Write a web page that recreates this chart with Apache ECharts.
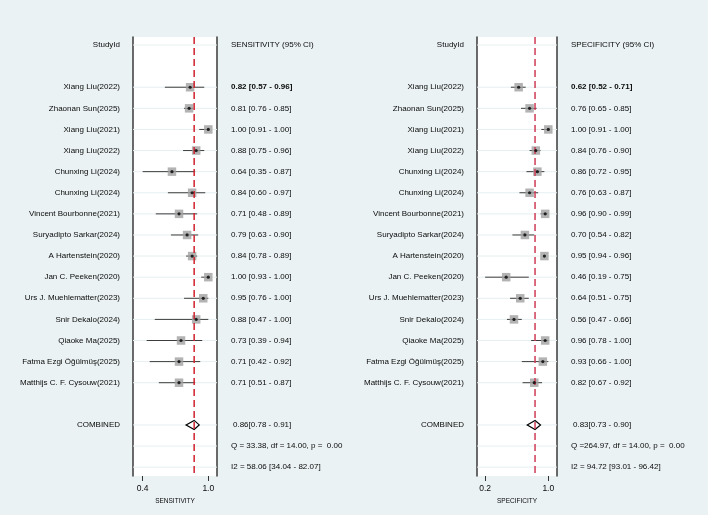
<!DOCTYPE html>
<html>
<head>
<meta charset="utf-8">
<script src="https://cdn.jsdelivr.net/npm/echarts@6/dist/echarts.min.js"></script>
<style>
  html, body { margin: 0; padding: 0; background: #eaf2f3; }
  #chart { width: 708px; height: 515px; }
</style>
</head>
<body>
<div id="chart"></div>
<script>
// study labels, top to bottom
const studies = [
  'Xiang Liu(2022)', 'Zhaonan Sun(2025)', 'Xiang Liu(2021)', 'Xiang Liu(2022)',
  'Chunxing Li(2024)', 'Chunxing Li(2024)', 'Vincent Bourbonne(2021)',
  'Suryadipto Sarkar(2024)', 'A Hartenstein(2020)', 'Jan C. Peeken(2020)',
  'Urs J. Muehlematter(2023)', 'Snir Dekalo(2024)', 'Qiaoke Ma(2025)',
  'Fatma Ezgi Öğülmüş(2025)', 'Matthijs C. F. Cysouw(2021)'
]

// sensitivity per study
const sensEst = [0.82, 0.81, 1.00, 0.88, 0.64, 0.84, 0.71, 0.79, 0.84, 1.00, 0.95, 0.88, 0.73, 0.71, 0.71]
const sensLo  = [0.57, 0.76, 0.91, 0.75, 0.35, 0.60, 0.48, 0.63, 0.78, 0.93, 0.76, 0.47, 0.39, 0.42, 0.51]
const sensHi  = [0.96, 0.85, 1.00, 0.96, 0.87, 0.97, 0.89, 0.90, 0.89, 1.00, 1.00, 1.00, 0.94, 0.92, 0.87]
const sensPooled = [0.86, 0.78, 0.91]
const sensQ = 'Q = 33.38, df = 14.00, p =  0.00'
const sensI2 = 'I2 = 58.06 [34.04 - 82.07]'
const sensTicks = [0.35, 1.0]
const sensTickLabels = ['0.4', '1.0']

// specificity per study
const specEst = [0.62, 0.76, 1.00, 0.84, 0.86, 0.76, 0.96, 0.70, 0.95, 0.46, 0.64, 0.56, 0.96, 0.93, 0.82]
const specLo  = [0.52, 0.65, 0.91, 0.76, 0.72, 0.63, 0.90, 0.54, 0.94, 0.19, 0.51, 0.47, 0.78, 0.66, 0.67]
const specHi  = [0.71, 0.85, 1.00, 0.90, 0.95, 0.87, 0.99, 0.82, 0.96, 0.75, 0.75, 0.66, 1.00, 1.00, 0.92]
const specPooled = [0.83, 0.73, 0.90]
const specQ = 'Q =264.97, df = 14.00, p =  0.00'
const specI2 = 'I2 = 94.72 [93.01 - 96.42]'
const specTicks = [0.19, 1.0]
const specTickLabels = ['0.2', '1.0']

const FONT = 'Arial, "Liberation Sans", sans-serif'
const TEXT = '#0a0a0a'

// row layout (row index along the y axis)
const HEADER_ROW = -2
const COMB_ROW = studies.length + 1
const Q_ROW = COMB_ROW + 1
const I2_ROW = COMB_ROW + 2
const studyRows = studies.map((_, i) => i)

const fmt = v => v.toFixed(2)

function buildPanel(idx, p) {
  const { left, width, xMin, xMax, est, lo, hi, pooled, header, title, q, i2, ticks, tickLabels, red } = p

  const leftLabels = { [HEADER_ROW]: 'StudyId', [COMB_ROW]: 'COMBINED' }
  studies.forEach((s, i) => { leftLabels[i] = s })

  const rightLabels = {
    [HEADER_ROW]: '{n|' + header + '}',
    [COMB_ROW]: '{c|' + fmt(pooled[0]) + '[' + fmt(pooled[1]) + ' - ' + fmt(pooled[2]) + ']}',
    [Q_ROW]: '{n|' + q + '}',
    [I2_ROW]: '{n|' + i2 + '}'
  }
  est.forEach((e, i) => {
    const s = fmt(e) + ' [' + fmt(lo[i]) + ' - ' + fmt(hi[i]) + ']'
    rightLabels[i] = (i === 0 ? '{b|' : '{n|') + s + '}'
  })

  const gridRows = [HEADER_ROW, ...studyRows, COMB_ROW, Q_ROW, I2_ROW]

  const grid = { left, top: 37, width, height: 439, show: true, backgroundColor: '#fff', borderWidth: 0 }

  const xAxis = {
    gridIndex: idx,
    type: 'value',
    min: xMin,
    max: xMax,
    name: title,
    nameLocation: 'middle',
    nameGap: 17,
    nameTextStyle: { fontSize: 6.5, color: TEXT, fontFamily: FONT, verticalAlign: 'top' },
    axisLine: { show: false, onZero: false },
    splitLine: { show: false },
    axisTick: { customValues: ticks, length: 5, lineStyle: { color: '#333', width: 1 } },
    axisLabel: {
      customValues: ticks,
      margin: 8,
      fontSize: 8.5,
      color: TEXT,
      fontFamily: FONT,
      formatter: v => tickLabels[ticks.indexOf(v)]
    }
  }

  const yCommon = {
    gridIndex: idx,
    type: 'value',
    inverse: true,
    min: -2.38,
    max: 18.42,
    splitLine: { show: false },
    axisTick: { show: false },
    axisLine: { show: true, onZero: false, lineStyle: { color: '#3a3a3a', width: 1.5 } }
  }

  const yLeft = Object.assign({}, yCommon, {
    position: 'left',
    axisLabel: {
      customValues: [HEADER_ROW, ...studyRows, COMB_ROW],
      margin: 13,
      fontSize: 8,
      color: TEXT,
      fontFamily: FONT,
      formatter: v => leftLabels[Math.round(v)]
    }
  })

  const yRight = Object.assign({}, yCommon, {
    position: 'right',
    axisLabel: {
      customValues: gridRows,
      margin: 14,
      fontSize: 8,
      color: TEXT,
      fontFamily: FONT,
      formatter: v => rightLabels[Math.round(v)],
      rich: {
        n: { fontSize: 8, color: TEXT, fontFamily: FONT },
        b: { fontSize: 8, color: TEXT, fontFamily: FONT, fontWeight: 'bold' },
        c: { fontSize: 8, color: TEXT, fontFamily: FONT, padding: [0, 0, 0, 2] }
      }
    }
  })

  const xi = idx, yi = idx * 2

  const series = [
    // faint row lines
    {
      type: 'custom', xAxisIndex: xi, yAxisIndex: yi, z: 1, silent: true,
      data: gridRows.map(r => [xMin, r]),
      renderItem(params, api) {
        const cs = params.coordSys
        const y = api.coord([api.value(0), api.value(1)])[1]
        return {
          type: 'line',
          shape: { x1: cs.x, y1: y, x2: cs.x + cs.width, y2: y },
          style: { stroke: '#e6eff1', lineWidth: 1 }
        }
      }
    },
    // confidence intervals
    {
      type: 'custom', xAxisIndex: xi, yAxisIndex: yi, z: 2, silent: true,
      encode: { x: [1, 2], y: 0 },
      data: studyRows.map(i => [i, lo[i], hi[i]]),
      renderItem(params, api) {
        const r = api.value(0)
        const a = api.coord([api.value(1), r])
        const b = api.coord([api.value(2), r])
        return {
          type: 'line',
          shape: { x1: a[0], y1: a[1], x2: b[0], y2: b[1] },
          style: { stroke: '#3c3c3c', lineWidth: 1 }
        }
      }
    },
    // pooled diamond
    {
      type: 'custom', xAxisIndex: xi, yAxisIndex: yi, z: 3, silent: true,
      encode: { x: [1, 2, 3], y: 0 },
      data: [[COMB_ROW, pooled[0], pooled[1], pooled[2]]],
      renderItem(params, api) {
        const r = api.value(0)
        const c = api.coord([api.value(1), r])
        const l = api.coord([api.value(2), r])
        const h = api.coord([api.value(3), r])
        return {
          type: 'polygon',
          shape: { points: [[l[0], c[1]], [c[0], c[1] - 4.5], [h[0], c[1]], [c[0], c[1] + 4.5]] },
          style: { fill: '#fff', stroke: '#000', lineWidth: 1.2 }
        }
      }
    },
    // study markers
    {
      type: 'scatter', xAxisIndex: xi, yAxisIndex: yi, z: 4, silent: true,
      symbol: 'rect', symbolSize: 8.5,
      itemStyle: { color: '#a0a0a0' },
      data: studyRows.map(i => [est[i], i])
    },
    // pooled reference line
    {
      type: 'custom', xAxisIndex: xi, yAxisIndex: yi, z: 5, silent: true,
      data: [[pooled[0], 0]],
      renderItem(params, api) {
        const cs = params.coordSys
        const x = api.coord([api.value(0), 0])[0]
        return {
          type: 'line',
          shape: { x1: x, y1: cs.y, x2: x, y2: cs.y + cs.height },
          style: { stroke: red, lineWidth: 1.5, lineDash: [7, 4] }
        }
      }
    },
    {
      type: 'scatter', xAxisIndex: xi, yAxisIndex: yi, z: 6, silent: true,
      symbol: 'circle', symbolSize: 3.2,
      itemStyle: { color: '#000' },
      data: studyRows.map(i => [est[i], i])
    }
  ]

  return { grid, xAxis, yAxes: [yLeft, yRight], series }
}

const sens = buildPanel(0, {
  left: 133, width: 84, xMin: 0.2545, xMax: 1.0861,
  est: sensEst, lo: sensLo, hi: sensHi, pooled: sensPooled,
  header: 'SENSITIVITY (95% CI)', title: 'SENSITIVITY',
  q: sensQ, i2: sensI2, ticks: sensTicks, tickLabels: sensTickLabels,
  red: '#d0202e'
})

const spec = buildPanel(1, {
  left: 477, width: 80, xMin: 0.0859, xMax: 1.1115,
  est: specEst, lo: specLo, hi: specHi, pooled: specPooled,
  header: 'SPECIFICITY (95% CI)', title: 'SPECIFICITY',
  q: specQ, i2: specI2, ticks: specTicks, tickLabels: specTickLabels,
  red: '#cf3d58'
})

const chart = echarts.init(document.getElementById('chart'))
chart.setOption({
  animation: false,
  backgroundColor: '#eaf2f3',
  textStyle: { fontFamily: FONT },
  grid: [sens.grid, spec.grid],
  xAxis: [sens.xAxis, spec.xAxis],
  yAxis: [...sens.yAxes, ...spec.yAxes],
  series: [...sens.series, ...spec.series]
})
</script>
</body>
</html>
